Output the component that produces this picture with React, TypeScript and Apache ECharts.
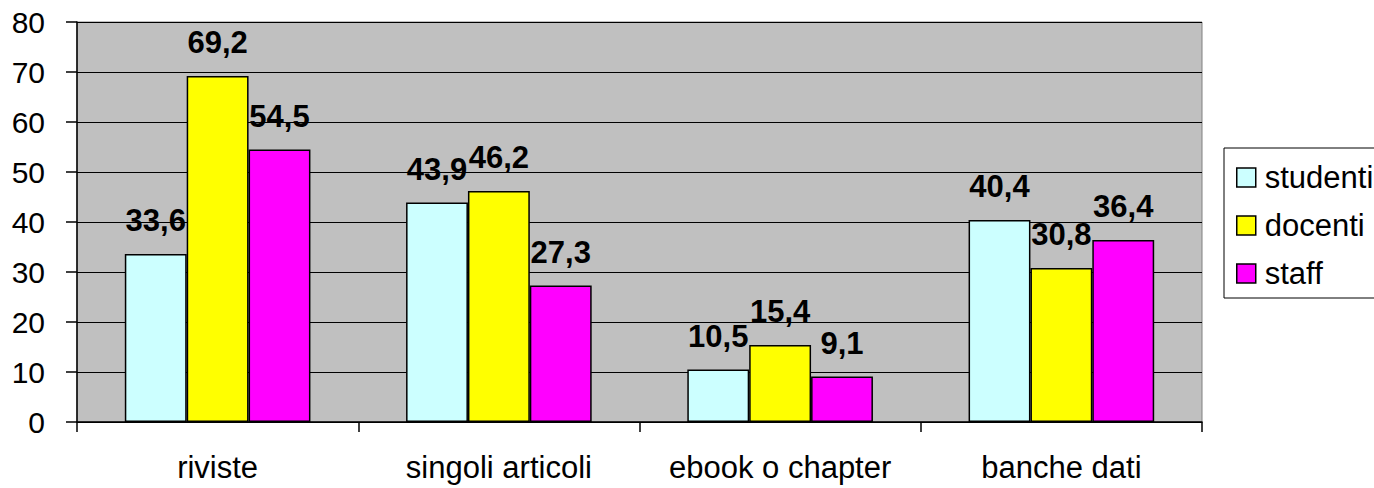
import React, { useEffect, useRef } from "react";
import * as echarts from "echarts";

const categories = ["riviste", "singoli articoli", "ebook o chapter", "banche dati"];
const studenti = [33.6, 43.9, 10.5, 40.4];
const docenti = [69.2, 46.2, 15.4, 30.8];
const staff = [54.5, 27.3, 9.1, 36.4];
const seriesNames = ["studenti", "docenti", "staff"];
const seriesColors = ["#CCFFFF", "#FFFF00", "#FF00FF"];

const FONT = "'Liberation Sans', Arial, sans-serif";

export default function App() {
  const ref = useRef<HTMLDivElement>(null);
  useEffect(() => {
    if (!ref.current) return;
    const chart = echarts.init(ref.current, undefined, { renderer: "svg" });
    const data = [studenti, docenti, staff];
    chart.setOption({
      animation: false,
      backgroundColor: "#ffffff",
      grid: {
        left: 77,
        top: 22,
        right: 172,
        bottom: 66,
        show: true,
        backgroundColor: "#C0C0C0",
        borderColor: "#808080",
        borderWidth: 1,
      },
      legend: {
        orient: "vertical",
        left: 1224,
        top: 148,
        padding: [14, 20, 9, 12],
        itemWidth: 19,
        itemHeight: 19,
        itemGap: 17,
        borderColor: "#000",
        borderWidth: 1,
        backgroundColor: "#fff",
        icon: "rect",
        data: seriesNames,
        textStyle: { fontFamily: FONT, fontSize: 31, color: "#000", lineHeight: 30, padding: [0, 0, 0, 4] },
        itemStyle: { borderColor: "#000", borderWidth: 1.5 },
      },
      xAxis: {
        type: "category",
        data: categories,
        axisLine: { lineStyle: { color: "#000", width: 1.5 } },
        axisTick: { show: true, interval: 0, length: 10, alignWithLabel: false, lineStyle: { color: "#000", width: 1.5 } },
        axisLabel: { interval: 0, hideOverlap: false, fontFamily: FONT, fontSize: 31, color: "#000", margin: 30 },
      },
      yAxis: {
        type: "value",
        min: 0,
        max: 80,
        interval: 10,
        axisLine: { show: true, lineStyle: { color: "#000", width: 1.5 } },
        axisTick: { show: true, length: 11, lineStyle: { color: "#000", width: 1.5 } },
        axisLabel: { fontFamily: FONT, fontSize: 30, color: "#000", margin: 32 },
        splitLine: { show: true, lineStyle: { color: "#000", width: 1.2 } },
      },
      series: seriesNames.map((name, i) => ({
        name,
        type: "bar",
        data: data[i],
        barGap: "0%",
        barCategoryGap: "34%",
        itemStyle: { color: seriesColors[i], borderColor: "#000", borderWidth: 1.5 },
        label: {
          show: true,
          position: "top",
          distance: 18,
          fontFamily: FONT,
          fontSize: 31,
          fontWeight: "bold",
          color: "#000",
          formatter: (p: any) => String(p.value).replace(".", ","),
        },
      })),
    });
    return () => chart.dispose();
  }, []);
  return (
    <div
      ref={ref}
      style={{ position: "fixed", left: 0, top: 0, width: 1374, height: 488 }}
    />
  );
}
